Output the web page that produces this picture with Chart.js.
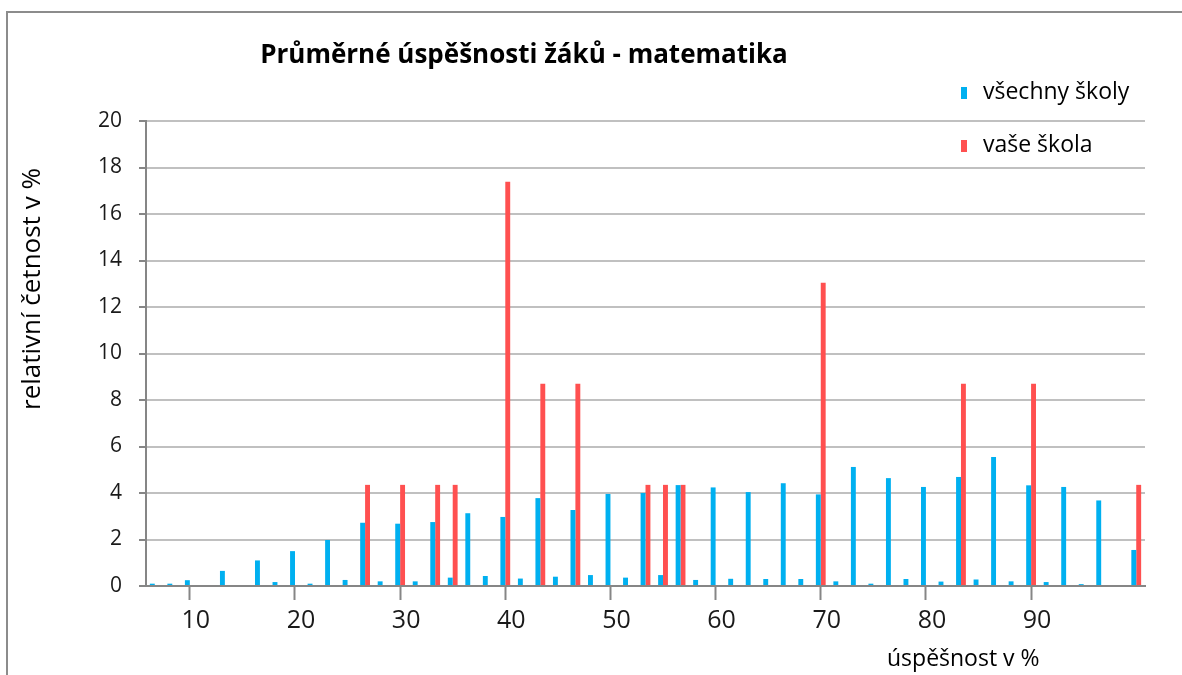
<!DOCTYPE html>
<html lang="cs">
<head>
  <meta charset="UTF-8" />
  <title>Průměrné úspěšnosti žáků - matematika</title>
  <script src="https://cdn.jsdelivr.net/npm/chart.js"></script>
  <style>
    html, body {
      margin: 0;
      padding: 0;
      background: #fff;
    }
    #wrap {
      width: 1182px;
      height: 675px;
    }
  </style>
</head>
<body>
  <div id="wrap"><canvas id="chart" width="1182" height="675"></canvas></div>

  <script>
    // success rate categories (%), one bar group each
    const categories = [
      6.7, 8.3, 10, 11.7, 13.3, 15, 16.7, 18.3, 20, 21.7,
      23.3, 25, 26.7, 28.3, 30, 31.7, 33.3, 35, 36.7, 38.3,
      40, 41.7, 43.3, 45, 46.7, 48.3, 50, 51.7, 53.3, 55,
      56.7, 58.3, 60, 61.7, 63.3, 65, 66.7, 68.3, 70, 71.7,
      73.3, 75, 76.7, 78.3, 80, 81.7, 83.3, 85, 86.7, 88.3,
      90, 91.7, 93.3, 95, 96.7, 98.3, 100
    ];

    const allSchools = [
      0.1, 0.1, 0.25, 0, 0.65, 0, 1.1, 0.17, 1.5, 0.1,
      1.98, 0.26, 2.72, 0.2, 2.68, 0.2, 2.75, 0.36, 3.13, 0.43,
      2.97, 0.32, 3.78, 0.4, 3.27, 0.47, 3.96, 0.36, 4.0, 0.47,
      4.34, 0.26, 4.24, 0.31, 4.04, 0.3, 4.42, 0.3, 3.94, 0.2,
      5.12, 0.1, 4.64, 0.3, 4.26, 0.19, 4.69, 0.28, 5.55, 0.2,
      4.33, 0.17, 4.26, 0.08, 3.68, 0, 1.55
    ];

    const yourSchool = [
      0, 0, 0, 0, 0, 0, 0, 0, 0, 0,
      0, 0, 4.35, 0, 4.35, 0, 4.35, 4.35, 0, 0,
      17.39, 0, 8.7, 0, 8.7, 0, 0, 0, 4.35, 4.35,
      4.35, 0, 0, 0, 0, 0, 0, 0, 13.04, 0,
      0, 0, 0, 0, 0, 0, 8.7, 0, 0, 0,
      8.7, 0, 0, 0, 0, 0, 4.35
    ];

    const xTickLabels = [10, 20, 30, 40, 50, 60, 70, 80, 90];
    const seriesNames = ['všechny školy', 'vaše škola'];
    const seriesColors = ['#00b0f0', '#ff5050'];

    const chartTitle = 'Průměrné úspěšnosti žáků - matematika';
    const xTitle = 'úspěšnost v %';
    const yTitle = 'relativní četnost v %';

    const FONT = '"Open Sans", Arial, sans-serif';
    const AXIS = '#868686';

    // frame, title, legend and axis titles drawn on top of the chart
    const decor = {
      id: 'decor',
      afterDraw(chart) {
        const c = chart.ctx;
        c.save();

        c.strokeStyle = '#8c8c8c';
        c.lineWidth = 2;
        c.beginPath();
        c.moveTo(7, 675);
        c.lineTo(7, 12);
        c.lineTo(1182, 12);
        c.stroke();

        c.fillStyle = '#000';
        c.textBaseline = 'alphabetic';
        c.textAlign = 'center';
        c.font = 'bold 26px ' + FONT;
        c.fillText(chartTitle, 524, 63);

        c.textAlign = 'left';
        c.font = '23px ' + FONT;
        const rows = [99, 152];
        chart.data.datasets.forEach((ds, i) => {
          c.fillStyle = ds.backgroundColor;
          c.fillRect(961, rows[i] - 12, 6, 12);
          c.fillStyle = '#000';
          c.fillText(ds.label, 983, rows[i]);
        });

        c.font = '23px ' + FONT;
        c.fillText(xTitle, 887, 666);

        c.translate(40, 410);
        c.rotate(-Math.PI / 2);
        c.font = '26px ' + FONT;
        c.fillText(yTitle, 0, 0);

        c.restore();
      }
    };

    new Chart(document.getElementById('chart'), {
      type: 'bar',
      data: {
        labels: categories,
        datasets: [
          {
            label: seriesNames[0],
            data: allSchools,
            backgroundColor: seriesColors[0]
          },
          {
            label: seriesNames[1],
            data: yourSchool,
            backgroundColor: seriesColors[1]
          }
        ]
      },
      options: {
        responsive: false,
        animation: false,
        categoryPercentage: 0.56,
        barPercentage: 1.0,
        layout: {
          padding: { left: 0, top: 121, right: 37, bottom: 0 }
        },
        plugins: {
          legend: { display: false },
          title: { display: false },
          tooltip: { enabled: false }
        },
        scales: {
          x: {
            offset: true,
            afterFit: (scale) => { scale.height = 89; },
            grid: {
              offset: false,
              drawOnChartArea: false,
              drawTicks: true,
              tickLength: 14,
              tickColor: AXIS,
              tickWidth: 2
            },
            border: { display: true, color: AXIS, width: 2 },
            ticks: {
              autoSkip: false,
              maxRotation: 0,
              padding: 6,
              labelOffset: 6,
              color: '#1a1a1a',
              font: { family: FONT, size: 25 },
              callback: function (value, index) {
                const v = categories[index];
                return xTickLabels.includes(v) ? String(v) : null;
              }
            }
          },
          y: {
            min: 0,
            max: 20,
            afterFit: (scale) => { scale.width = 146; },
            grid: {
              color: '#c0c0c0',
              lineWidth: 2,
              tickLength: 7,
              tickColor: AXIS
            },
            border: { display: true, color: AXIS, width: 2 },
            ticks: {
              stepSize: 2,
              padding: 17,
              color: '#1a1a1a',
              font: { family: FONT, size: 21 }
            }
          }
        }
      },
      plugins: [decor]
    });
  </script>
</body>
</html>
